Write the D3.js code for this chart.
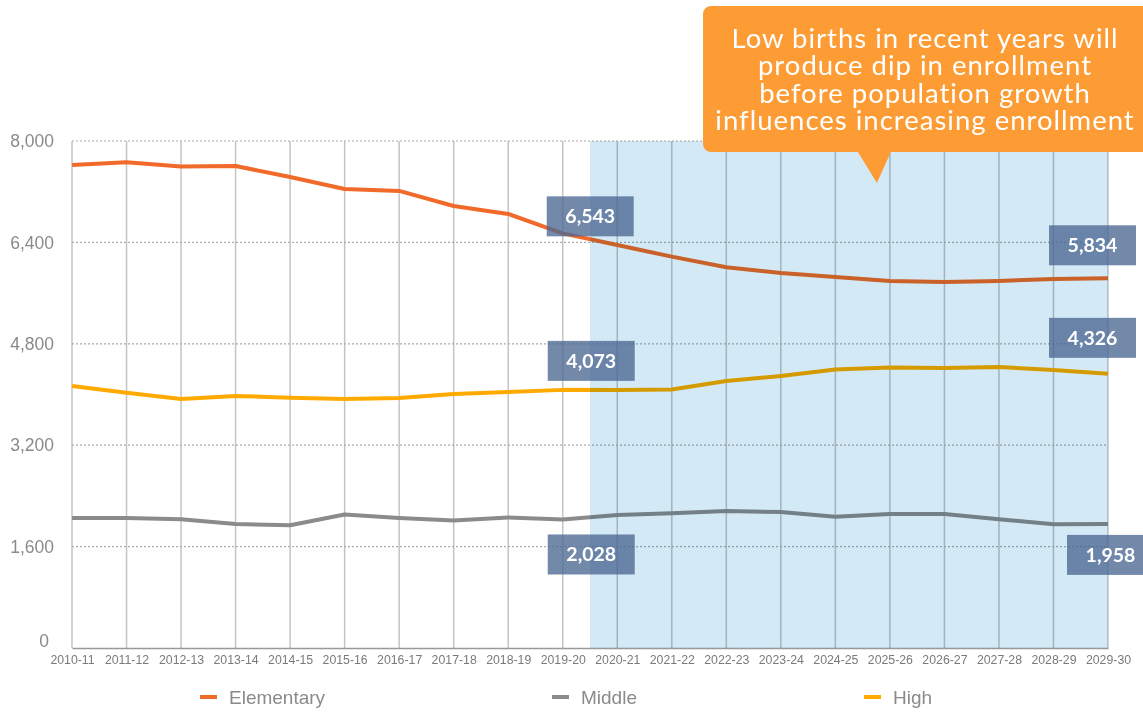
<!DOCTYPE html>
<html>
<head>
<meta charset="utf-8">
<script src="https://cdn.jsdelivr.net/npm/d3@7"></script>
<style>
  body { margin: 0; background: #fff; }
  svg { display: block; }
</style>
</head>
<body>
<div id="container"></div>
<script>
/* CONSTANTS AND GLOBALS */
const width = 1143,
  height = 713,
  margin = { top: 141, right: 35, bottom: 65, left: 72 };

/* DATA */
const categories = ["2010-11", "2011-12", "2012-13", "2013-14", "2014-15", "2015-16", "2016-17",
  "2017-18", "2018-19", "2019-20", "2020-21", "2021-22", "2022-23", "2023-24", "2024-25",
  "2025-26", "2026-27", "2027-28", "2028-29", "2029-30"];
const elementary = [7621, 7664, 7596, 7606, 7432, 7243, 7212, 6975, 6849, 6543,
  6359, 6175, 6007, 5918, 5855, 5791, 5776, 5791, 5823, 5834];
const middle = [2051, 2051, 2031, 1957, 1936, 2107, 2051, 2012, 2059, 2028,
  2099, 2125, 2162, 2146, 2072, 2115, 2115, 2031, 1952, 1958];
const high = [4134, 4029, 3929, 3977, 3950, 3929, 3945, 4008, 4040, 4073,
  4070, 4080, 4213, 4292, 4395, 4426, 4418, 4434, 4387, 4326];
const seriesNames = ["Elementary", "Middle", "High"];
const seriesColors = ["#f26a2a", "#8a8c8c", "#ffaa00"];
const yTicks = [0, 1600, 3200, 4800, 6400, 8000];
const projectionStart = "2020-21";
const calloutLines = ["Low births in recent years will", "produce dip in enrollment",
  "before population growth", "influences increasing enrollment"];
// value labels: series index, category index, box offset from the point
const valueLabels = [
  { s: 0, i: 9, dx: -16, dy: -37 },
  { s: 2, i: 9, dx: -15, dy: -49 },
  { s: 1, i: 9, dx: -15, dy: 15 },
  { s: 0, i: 19, dx: -59, dy: -53 },
  { s: 2, i: 19, dx: -59, dy: -56 },
  { s: 1, i: 19, dx: -41, dy: 11 }
];

const seriesValues = [elementary, middle, high];

const svg = d3.select("#container")
  .append("svg")
  .attr("width", width)
  .attr("height", height);

/* SCALES */
const xScale = d3.scalePoint()
  .domain(categories)
  .range([margin.left, width - margin.right]);
const yScale = d3.scaleLinear()
  .domain([0, 8000])
  .range([height - margin.bottom, margin.top]);

/* GRID */
svg.append("g")
  .selectAll("line")
  .data(categories)
  .join("line")
  .attr("x1", d => xScale(d)).attr("x2", d => xScale(d))
  .attr("y1", yScale(8000)).attr("y2", yScale(0))
  .attr("stroke", "#c4c4c4")
  .attr("stroke-width", 1.5);

svg.append("g")
  .selectAll("line")
  .data(yTicks.filter(d => d > 0))
  .join("line")
  .attr("x1", xScale.range()[0]).attr("x2", xScale.range()[1])
  .attr("y1", d => yScale(d)).attr("y2", d => yScale(d))
  .attr("stroke", "#ababab")
  .attr("stroke-width", 1.2)
  .attr("stroke-dasharray", "2,2");

/* AXES */
const yAxis = d3.axisLeft(yScale)
  .tickValues(yTicks)
  .tickSize(0)
  .tickPadding(18)
  .tickFormat(d3.format(","));
svg.append("g")
  .attr("transform", `translate(${margin.left},0)`)
  .call(yAxis)
  .call(g => g.select(".domain").remove())
  .call(g => g.selectAll("text")
    .attr("fill", "#8a8a8a")
    .style("font-family", "'Liberation Sans', Arial, sans-serif")
    .style("font-size", "17.5px"))
  .call(g => g.selectAll(".tick").filter(d => d === 0).select("text").attr("dy", "-0.1em").attr("x", -23));

const xAxis = d3.axisBottom(xScale)
  .tickSize(0)
  .tickPadding(7);
svg.append("g")
  .attr("transform", `translate(0,${yScale(0)})`)
  .call(xAxis)
  .call(g => g.select(".domain").attr("stroke", "#999").attr("stroke-width", 1.5))
  .call(g => g.selectAll("text")
    .attr("fill", "#7a7a7a")
    .style("font-family", "'Liberation Sans', Arial, sans-serif")
    .style("font-size", "12.3px"));

/* LINES */
const line = d3.line()
  .x((d, i) => xScale(categories[i]))
  .y(d => yScale(d));

svg.append("g")
  .selectAll("path")
  .data(seriesValues)
  .join("path")
  .attr("d", d => line(d))
  .attr("fill", "none")
  .attr("stroke", (d, i) => seriesColors[i])
  .attr("stroke-width", 4)
  .attr("stroke-linejoin", "round");

/* PROJECTION SHADE */
const step = xScale.step();
const shadeX = xScale(projectionStart) - step / 2;
svg.append("rect")
  .attr("x", shadeX)
  .attr("y", yScale(8000))
  .attr("width", xScale.range()[1] - shadeX)
  .attr("height", yScale(0) - yScale(8000))
  .attr("fill", "#d4e9f6")
  .style("mix-blend-mode", "multiply");

/* VALUE LABELS */
const labelG = svg.append("g")
  .selectAll("g")
  .data(valueLabels)
  .join("g")
  .attr("transform", d => `translate(${xScale(categories[d.i]) + d.dx},${yScale(seriesValues[d.s][d.i]) + d.dy})`);
labelG.append("rect")
  .attr("width", 87)
  .attr("height", 40)
  .attr("fill", "#4a6892")
  .attr("opacity", 0.78);
labelG.append("text")
  .attr("x", 43.5)
  .attr("y", 27)
  .attr("text-anchor", "middle")
  .attr("fill", "#fff")
  .style("font-family", "Lato, sans-serif")
  .style("font-weight", "700")
  .style("font-size", "19.5px")
  .text(d => d3.format(",")(seriesValues[d.s][d.i]));

/* CALLOUT */
const callout = svg.append("g");
const cx0 = 703, cy0 = 6, cx1 = 1152, cy1 = 152, r = 8;
const tipX = xScale("2025-26") - 13;
const calloutPath = d3.path();
calloutPath.moveTo(cx0 + r, cy0);
calloutPath.lineTo(cx1 - r, cy0);
calloutPath.arcTo(cx1, cy0, cx1, cy0 + r, r);
calloutPath.lineTo(cx1, cy1 - r);
calloutPath.arcTo(cx1, cy1, cx1 - r, cy1, r);
calloutPath.lineTo(tipX + 14, cy1);
calloutPath.lineTo(tipX, 183);
calloutPath.lineTo(tipX - 19, cy1);
calloutPath.lineTo(cx0 + r, cy1);
calloutPath.arcTo(cx0, cy1, cx0, cy1 - r, r);
calloutPath.lineTo(cx0, cy0 + r);
calloutPath.arcTo(cx0, cy0, cx0 + r, cy0, r);
calloutPath.closePath();
callout.append("path")
  .attr("d", calloutPath.toString())
  .attr("fill", "#fd9c35");
callout.append("text")
  .attr("text-anchor", "middle")
  .attr("fill", "#fff")
  .style("font-family", "Lato, sans-serif")
  .style("font-size", "27.5px")
  .style("letter-spacing", "1px")
  .selectAll("tspan")
  .data(calloutLines)
  .join("tspan")
  .attr("x", 925)
  .attr("y", (d, i) => 48 + i * 27.4)
  .text(d => d);

/* LEGEND */
const legendX = [200, 552, 864];
const legend = svg.append("g")
  .selectAll("g")
  .data(seriesNames)
  .join("g")
  .attr("transform", (d, i) => `translate(${legendX[i]},697)`);
legend.append("line")
  .attr("x1", 0).attr("x2", 17)
  .attr("stroke", (d, i) => seriesColors[i])
  .attr("stroke-width", 4);
legend.append("text")
  .attr("x", 29)
  .attr("dy", "0.35em")
  .attr("fill", "#8a8a8a")
  .style("font-family", "'Liberation Sans', Arial, sans-serif")
  .style("font-size", "19px")
  .text(d => d);
</script>
</body>
</html>
